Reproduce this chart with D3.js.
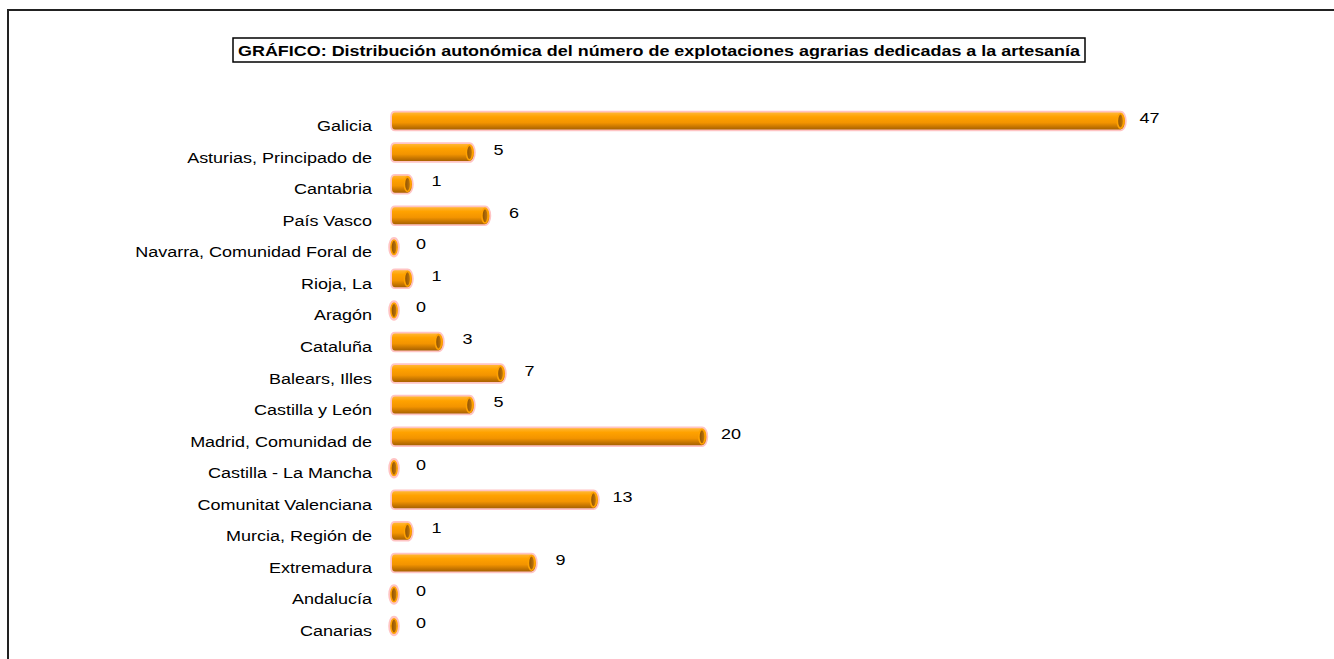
<!DOCTYPE html>
<html><head><meta charset="utf-8">
<script src="https://cdn.jsdelivr.net/npm/d3@7/dist/d3.min.js"></script>
<style>
html,body{margin:0;padding:0;background:#fff;}
svg{display:block;font-family:"Liberation Sans",Arial,sans-serif;}
</style></head>
<body>
<svg id="chart" width="1334" height="659"></svg>
<script>
const categories = ["Galicia","Asturias, Principado de","Cantabria","País Vasco","Navarra, Comunidad Foral de","Rioja, La","Aragón","Cataluña","Balears, Illes","Castilla y León","Madrid, Comunidad de","Castilla - La Mancha","Comunitat Valenciana","Murcia, Región de","Extremadura","Andalucía","Canarias"];
const values = [47,5,1,6,0,1,0,3,7,5,20,0,13,1,9,0,0];
const titleText = "GRÁFICO: Distribución autonómica del número de explotaciones agrarias dedicadas a la artesanía";

const svg = d3.select("#chart");
const defs = svg.append("defs");
const g1 = defs.append("linearGradient").attr("id","body").attr("x1",0).attr("y1",0).attr("x2",0).attr("y2",1);
[[0,"#FFB733"],[0.25,"#FFA200"],[0.6,"#F39400"],[0.85,"#C47400"],[1,"#A86200"]].forEach(s=>g1.append("stop").attr("offset",s[0]).attr("stop-color",s[1]));
const g2 = defs.append("linearGradient").attr("id","cap").attr("x1",0).attr("y1",0).attr("x2",1).attr("y2",0);
[[0,"#8A4E00"],[1,"#C27A10"]].forEach(s=>g2.append("stop").attr("offset",s[0]).attr("stop-color",s[1]));

// outer frame
svg.append("rect").attr("x",8).attr("y",10).attr("width",1400).attr("height",700)
  .attr("fill","none").attr("stroke","#222").attr("stroke-width",2);

// title
svg.append("rect").attr("x",233).attr("y",38).attr("width",852).attr("height",24)
  .attr("fill","#fff").attr("stroke","#000").attr("stroke-width",1.5);
svg.append("text").attr("x",659).attr("y",55.5).attr("text-anchor","middle")
  .attr("font-size",15.5).attr("font-weight","bold").attr("textLength",842).attr("lengthAdjust","spacingAndGlyphs")
  .text(titleText);

const x = d3.scaleLinear().domain([0,50]).range([392,1167]);
const y = d3.scalePoint().domain(categories).range([121,626]);
const bh = 17, rx = 4.5;

const rows = svg.append("g").selectAll("g").data(categories).join("g")
  .attr("transform", d=>`translate(0,${y(d)})`);

rows.each(function(c,i){
  const v = values[i];
  const g = d3.select(this);
  const x0 = x(0), x1 = Math.max(x(v), x0+2);
  if (v > 0) {
    const p = `M${x0+3},${-bh/2} L${x1},${-bh/2} A${rx},${bh/2} 0 0 1 ${x1},${bh/2} L${x0+3},${bh/2} Q${x0},${bh/2} ${x0},${bh/2-4} L${x0},${-bh/2+4} Q${x0},${-bh/2} ${x0+3},${-bh/2} Z`;
    g.append("path").attr("d",p).attr("fill","none").attr("stroke","#FFC4C4").attr("stroke-width",3.5);
    g.append("path").attr("d",p).attr("fill","url(#body)");
  } else {
    g.append("ellipse").attr("cx",x1).attr("cy",0).attr("rx",rx-0.5).attr("ry",bh/2)
      .attr("fill","none").attr("stroke","#FFC4C4").attr("stroke-width",3.5);
  }
  g.append("ellipse").attr("cx",x1).attr("cy",0).attr("rx",rx-1.4).attr("ry",bh/2-1.2)
    .attr("fill","url(#cap)").attr("stroke","#FFA200").attr("stroke-width",1.6);
});

// category labels (horizontally stretched like the original)
rows.append("text")
  .attr("transform","translate(372,10) scale(1.2,1)")
  .attr("text-anchor","end").attr("font-size",15).attr("fill","#000")
  .text(d=>d);

// value labels
rows.append("text")
  .attr("transform",(d,i)=>`translate(${x(values[i])+29},${2}) scale(1.2,1)`)
  .attr("text-anchor","middle").attr("font-size",15).attr("fill","#000")
  .text((d,i)=>values[i]);
</script>
</body></html>
